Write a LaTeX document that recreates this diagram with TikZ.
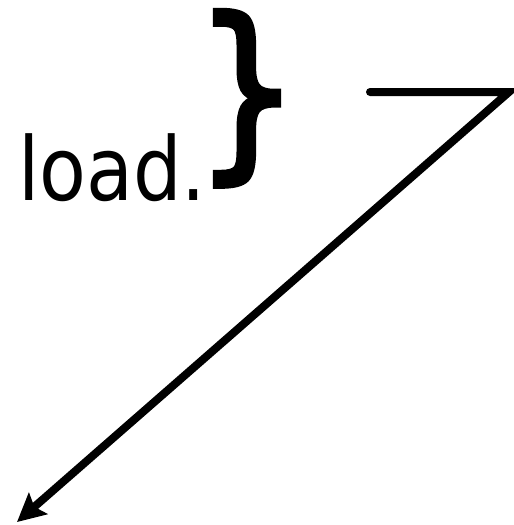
\documentclass[tikz,border=0pt]{standalone}
\usepackage{fontspec}
\setmainfont{DejaVu Sans}
\newfontfamily\bracefont[FakeBold=3]{DejaVu Sans}
\usetikzlibrary{arrows.meta}
\tikzset{
  lbl/.style={inner sep=0pt, outer sep=0pt, font=\fontsize{88}{90}\selectfont, xscale=0.87},
  brace/.style={inner sep=0pt, outer sep=0pt, font=\bracefont\fontsize{190}{200}\selectfont, xscale=0.86},
  conn/.style={line width=8pt, line cap=round, line join=miter},
  tip/.style={-{Stealth[length=28pt,width=28pt,inset=5pt]}}
}
\begin{document}
\begin{tikzpicture}[x=1pt,y=-1pt]
\useasboundingbox (0,0) rectangle (514,525);
\node[lbl, anchor=base west] (load) at (18,200) {load.};
\node[brace, anchor=base west] (br) at (195,155) {\}};
\coordinate (a) at (370,92);
\coordinate (b) at (509,92);
\coordinate (c) at (17,522);
\draw[conn, tip] (a) -- (b) -- (c);
\end{tikzpicture}
\end{document}
